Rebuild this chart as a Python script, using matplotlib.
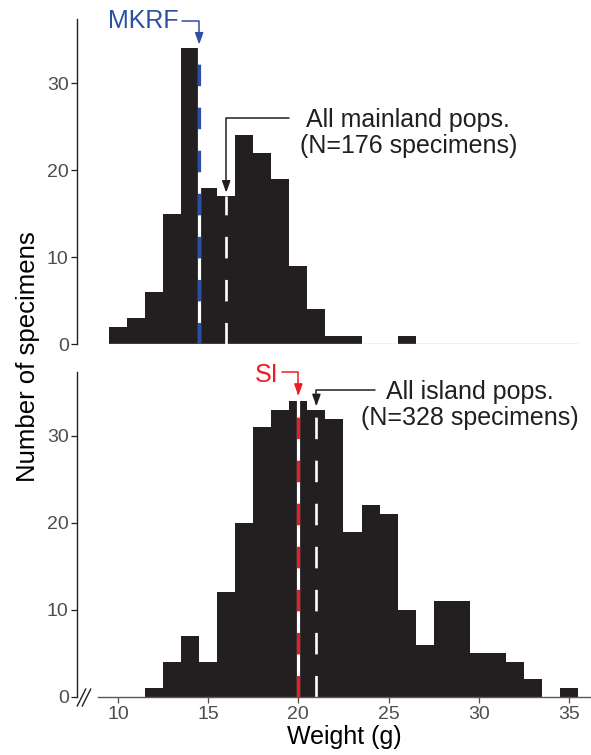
import matplotlib
matplotlib.use("Agg")
import matplotlib.pyplot as plt
import numpy as np

plt.rcParams["font.family"] = ["Liberation Sans", "DejaVu Sans"]

# histogram bins (1 g wide, centred on whole grams)
bin_centers = np.arange(10, 36)
mainland_counts = [2, 3, 6, 15, 34, 18, 17, 24, 22, 19, 9, 4, 1, 1, 0, 0, 1,
                   0, 0, 0, 0, 0, 0, 0, 0, 0]
island_counts = [0, 0, 1, 4, 7, 4, 12, 20, 31, 33, 34, 33, 32, 19, 22, 21, 10,
                 6, 11, 11, 5, 5, 4, 2, 0, 1]

mainland_mean = 16.0
mkrf_mean = 14.5
island_mean = 21.0
si_mean = 20.0

x_ticks = [10, 15, 20, 25, 30, 35]
y_ticks = [0, 10, 20, 30]

DARK = "#231F20"
GREY = "#4D4D4D"
BLUE = "#2D4FA2"
RED = "#ED1C24"

XLIM = (7.73, 36.22)


def bar_top(counts, x):
    counts = np.asarray(counts)
    near = np.abs(bin_centers - x) <= 0.5
    return counts[near].max()


def mean_line(ax, counts, x, color=None):
    top = bar_top(counts, x)
    lw = 1.9
    dash = (0, (15.5 / lw, 15.5 / lw))
    if color is None:
        ax.plot([x, x], [0, top], color="white", lw=lw, ls=dash,
                dash_capstyle="butt")
    else:
        ax.plot([x, x], [0, top], color="white", lw=lw + 0.4)
        ax.plot([x, x], [0, top], color=color, lw=lw + 0.4,
                ls=(0, (15.5 / (lw + 0.4), 15.5 / (lw + 0.4))),
                dash_capstyle="butt")


def pointer(ax, label, x_text, y_line, x_mean, tip, color, ha, text_xy):
    ax.annotate("", xy=(x_mean, tip), xytext=(x_text, y_line),
                arrowprops=dict(arrowstyle="-|>,head_length=0.7,head_width=0.25",
                                connectionstyle="angle,angleA=0,angleB=90,rad=0",
                                color=color, lw=1.1, shrinkA=0, shrinkB=0,
                                mutation_scale=10),
                annotation_clip=False)
    ax.text(text_xy[0], text_xy[1], label, color=color, fontsize=18, ha=ha,
            va="center", linespacing=1.1, clip_on=False)


def style(ax):
    ax.set_xlim(*XLIM)
    ax.set_ylim(0, 37.35)
    for s in ["top", "right"]:
        ax.spines[s].set_visible(False)
    ax.spines["left"].set_color(DARK)
    ax.spines["left"].set_linewidth(1.0)
    ax.set_yticks(y_ticks)
    ax.tick_params(axis="y", length=4, width=0.9, color=DARK, labelcolor=GREY,
                   labelsize=14, pad=2)


fig = plt.figure(figsize=(5.91, 7.55), dpi=100)
ax1 = fig.add_axes([77 / 591, (755 - 344.3) / 755, 514 / 591, 325.3 / 755])
ax2 = fig.add_axes([77 / 591, (755 - 696.7) / 755, 514 / 591, 324.7 / 755])

edges = np.append(bin_centers - 0.5, bin_centers[-1] + 0.5)

# top: mainland
ax1.bar(bin_centers, mainland_counts, width=1.0, color=DARK, linewidth=0)
ax1.hlines(0, edges[0], edges[-1], color="#BBBBBB", lw=1.0)
style(ax1)
ax1.spines["bottom"].set_visible(False)
ax1.set_xticks([])
mean_line(ax1, mainland_counts, mainland_mean)
mean_line(ax1, mainland_counts, mkrf_mean, BLUE)
pointer(ax1, "MKRF", 13.55, 37.1, mkrf_mean,
        bar_top(mainland_counts, mkrf_mean) + 0.4, BLUE, "right", (13.35, 37.1))
pointer(ax1, "All mainland pops.\n(N=176 specimens)", 19.48, 25.95,
        mainland_mean, bar_top(mainland_counts, mainland_mean) + 0.4, DARK,
        "center", (26.1, 24.3))

# bottom: islands
ax2.bar(bin_centers, island_counts, width=1.0, color=DARK, linewidth=0)
style(ax2)
ax2.spines["bottom"].set_bounds(8.9, XLIM[1])
ax2.spines["bottom"].set_color("#595959")
ax2.spines["bottom"].set_linewidth(1.0)
ax2.set_xticks(x_ticks)
ax2.tick_params(axis="x", length=4, width=0.9, color=GREY, labelcolor=GREY,
                labelsize=14, pad=3)
mean_line(ax2, island_counts, island_mean)
mean_line(ax2, island_counts, si_mean, RED)
pointer(ax2, "SI", 19.09, 37.3, si_mean,
        bar_top(island_counts, si_mean) + 0.6, RED, "right", (18.87, 37.0))
pointer(ax2, "All island pops.\n(N=328 specimens)", 24.25, 35.3,
        island_mean, bar_top(island_counts, island_mean) + 0.4, DARK,
        "center", (29.5, 33.6))

# axis break marks
for bx in [7.95, 8.22]:
    ax2.plot([bx], [0], marker=[(-0.5, -1), (0.5, 1)], markersize=13,
             color=DARK, mew=1.0, clip_on=False)

fig.text(28 / 591, 1 - 357 / 755, "Number of specimens", rotation=90,
         ha="center", va="center", fontsize=18.5, color="black")
fig.text(344 / 591, 1 - 737 / 755, "Weight (g)", ha="center", va="center",
         fontsize=18, color="black")

fig.savefig("out.png", dpi=100)
